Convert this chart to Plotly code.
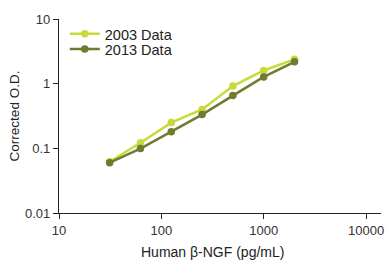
import plotly.graph_objects as go

conc = [31.25, 62.5, 125, 250, 500, 1000, 2000]
od_2003 = [0.062, 0.122, 0.25, 0.40, 0.92, 1.60, 2.38]
od_2013 = [0.060, 0.099, 0.181, 0.333, 0.654, 1.27, 2.18]
series_names = ["2003 Data", "2013 Data"]
x_ticks = [10, 100, 1000, 10000]
x_tick_labels = ["10", "100", "1000", "10000"]
y_ticks = [0.01, 0.1, 1, 10]
y_tick_labels = ["0.01", "0.1", "1", "10"]
x_title = "Human β-NGF (pg/mL)"
y_title = "Corrected O.D."

c2003 = "#cad93a"
c2013 = "#6e7b30"

fig = go.Figure()
fig.add_trace(go.Scatter(x=conc, y=od_2003, name=series_names[0], mode="lines+markers",
                         line=dict(color=c2003, width=2.5), marker=dict(color=c2003, size=7.5),
                         legend="legend"))
fig.add_trace(go.Scatter(x=conc, y=od_2013, name=series_names[1], mode="lines+markers",
                         line=dict(color=c2013, width=2.5), marker=dict(color=c2013, size=7.5),
                         legend="legend2"))

font = "Liberation Sans, Arial, sans-serif"
leg_common = dict(xanchor="left", yanchor="middle", bgcolor="rgba(0,0,0,0)",
                  font=dict(size=14.5, color="#222222"), itemwidth=30, borderwidth=0)
fig.update_layout(
    width=390, height=260,
    margin=dict(l=59, r=6, t=19, b=47),
    paper_bgcolor="white", plot_bgcolor="white",
    font=dict(family=font, size=13, color="#333333"),
    showlegend=True,
    legend=dict(x=0.018, y=0.923, **leg_common),
    legend2=dict(x=0.018, y=0.845, **leg_common),
    xaxis=dict(type="log", range=[1, 4.146], tickvals=x_ticks, ticktext=x_tick_labels,
               showgrid=False, zeroline=False, showline=True, linecolor="#222222", linewidth=1.2,
               ticks="outside", ticklen=5, tickcolor="#222222"),
    yaxis=dict(type="log", range=[-2, 1], tickvals=y_ticks, ticktext=y_tick_labels,
               showgrid=False, zeroline=False, showline=True, linecolor="#222222", linewidth=1.2,
               ticks="outside", ticklen=5, tickcolor="#222222",
               title=dict(text=y_title, font=dict(size=13.5, color="#222222"), standoff=2)),
    annotations=[dict(text=x_title, xref="paper", yref="paper", x=0.477, y=-0.148,
                      xanchor="center", yanchor="top", showarrow=False,
                      font=dict(size=14, color="#222222"))],
)

fig.write_html("out.html")
